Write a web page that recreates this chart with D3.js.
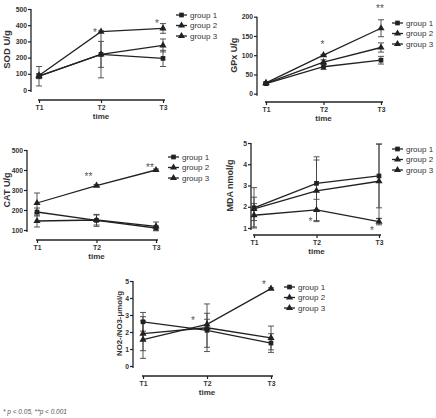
<!DOCTYPE html>
<html>
<head>
<meta charset="utf-8">
<script src="https://cdn.jsdelivr.net/npm/d3@7"></script>
<style>
  body { margin: 0; background: #fff; }
  svg { display: block; font-family: "Liberation Sans", Arial, sans-serif; }
</style>
</head>
<body>
<div id="chart"></div>
<script>
// data (mean, error) per group x time
const times = ["T1", "T2", "T3"];
const groups = ["group 1", "group 2", "group 3"];

const sodMean = [[85, 220, 195], [85, 220, 275], [90, 360, 380]];
const sodErr = [[15, 80, 50], [60, 145, 40], [10, 0, 30]];
const sodTicks = [0, 100, 200, 300, 400, 500];

const gpxMean = [[26, 70, 87], [27, 82, 120], [28, 100, 170]];
const gpxErr = [[3, 7, 10], [3, 6, 12], [2, 2, 22]];
const gpxTicks = [0, 50, 100, 150, 200];

const catMean = [[190, 148, 110], [145, 150, 118], [235, 322, 400]];
const catErr = [[20, 30, 10], [30, 25, 22], [50, 5, 5]];
const catTicks = [100, 200, 300, 400, 500];

const mdaMean = [[1.95, 3.1, 3.45], [1.9, 2.75, 3.2], [1.6, 1.85, 1.3]];
const mdaErr = [[0.95, 1.25, 1.5], [0.55, 1.45, 1.75], [0.55, 0.5, 0.15]];
const mdaTicks = [1, 2, 3, 4, 5];

const noMean = [[2.6, 2.1, 1.35], [1.9, 2.25, 1.65], [1.55, 2.45, 4.55]];
const noErr = [[0.55, 1.0, 0.55], [1.0, 1.4, 0.7], [1.1, 0.3, 0.05]];
const noTicks = [0, 1, 2, 3, 4, 5];

// significance marks: [time, value, label]
const sodSig = [["T2", 364, "*"], ["T3", 420, "*"]];
const gpxSig = [["T2", 132, "*"], ["T3", 225, "**"]];
const catSig = [["T2", 375, "**"], ["T3", 420, "**"]];
const mdaSig = [["T2", 1.38, "*"], ["T3", 0.95, "*"]];
const noSig = [["T2", 2.76, "*"], ["T3", 4.88, "*"]];

const footnote = "* p < 0.05, **p < 0.001";

const W = 436, H = 418;
const ink = "#222", txt = "#333";

const svg = d3.select("#chart").append("svg")
    .attr("width", W)
    .attr("height", H);

const panels = [
    { title: "SOD U/g", mean: sodMean, err: sodErr, ticks: sodTicks, sig: sodSig, domain: [0, 500],
      yAxisX: 31, xr: [39, 163], yr: [90, 9], xAxisY: 100, titleX: 7, titleSize: 9.5,
      legX: 176, legY: 15, sigDx: [-6, -6] },
    { title: "GPx U/g", mean: gpxMean, err: gpxErr, ticks: gpxTicks, sig: gpxSig, domain: [0, 200],
      yAxisX: 257, xr: [266, 381], yr: [93.7, 16.7], xAxisY: 102, titleX: 234, titleSize: 9,
      legX: 392, legY: 23, sigDx: [-1, -1] },
    { title: "CAT U/g", mean: catMean, err: catErr, ticks: catTicks, sig: catSig, domain: [100, 500],
      yAxisX: 27, xr: [37, 156], yr: [230, 150], xAxisY: 240, titleX: 7, titleSize: 9,
      legX: 168, legY: 157, sigDx: [-8, -6] },
    { title: "MDA nmol/g", mean: mdaMean, err: mdaErr, ticks: mdaTicks, sig: mdaSig, domain: [1, 5],
      yAxisX: 251, xr: [254, 379], yr: [228, 143], xAxisY: 235, titleX: 230, titleSize: 9,
      legX: 392, legY: 149, sigDx: [-6, -7] },
    { title: "NO2-/NO3-μmol/g", mean: noMean, err: noErr, ticks: noTicks, sig: noSig, domain: [0, 5],
      yAxisX: 133, xr: [143, 271], yr: [366, 281], xAxisY: 376, titleX: 119, titleSize: 7.8,
      legX: 284, legY: 287, sigDx: [-14, -7] }
];

const shapes = [d3.symbolSquare, d3.symbolTriangle, d3.symbolTriangle];
const shapeSize = [22, 22, 22];

panels.forEach(drawPanel);

function drawPanel(p) {
    const g = svg.append("g");
    const x = d3.scalePoint().domain(times).range(p.xr);
    const y = d3.scaleLinear().domain(p.domain).range(p.yr);

    // y axis
    const ya = g.append("g")
        .attr("transform", `translate(${p.yAxisX},0)`)
        .call(d3.axisLeft(y).tickValues(p.ticks).tickFormat(d3.format("d"))
            .tickSize(3).tickSizeOuter(0).tickPadding(1));
    ya.select(".domain").attr("stroke", ink).attr("stroke-width", 1.3)
        .attr("d", `M0,${p.yr[0] + 2}V${p.yr[1]}`);
    ya.selectAll(".tick line").attr("stroke", ink).attr("stroke-width", 1.2);
    ya.selectAll(".tick text").attr("fill", txt).style("font-size", "6.8px").style("font-weight", "bold");

    // x axis
    const xa = g.append("g")
        .attr("transform", `translate(0,${p.xAxisY})`)
        .call(d3.axisBottom(x).tickSize(3).tickSizeOuter(0).tickPadding(2));
    xa.select(".domain").attr("stroke", ink).attr("stroke-width", 1.3)
        .attr("d", `M${p.xr[0] - 1},0H${p.xr[1] + 2}`);
    xa.selectAll(".tick line").attr("stroke", ink).attr("stroke-width", 1.2);
    xa.selectAll(".tick text").attr("fill", txt).style("font-size", "6.8px").style("font-weight", "bold");

    g.append("text")
        .attr("x", (p.xr[0] + p.xr[1]) / 2)
        .attr("y", p.xAxisY + 19)
        .attr("text-anchor", "middle")
        .attr("fill", txt)
        .style("font-size", "8px")
        .style("font-weight", "bold")
        .text("time");

    g.append("text")
        .attr("transform", `translate(${p.titleX},${(p.yr[0] + p.yr[1]) / 2}) rotate(-90)`)
        .attr("dy", "0.35em")
        .attr("text-anchor", "middle")
        .attr("fill", txt)
        .style("font-size", p.titleSize + "px")
        .style("font-weight", "bold")
        .text(p.title);

    // error bars
    groups.forEach((grp, gi) => {
        times.forEach((t, ti) => {
            const m = p.mean[gi][ti], e = p.err[gi][ti];
            if (!e) return;
            const cx = x(t);
            g.append("line")
                .attr("x1", cx).attr("x2", cx)
                .attr("y1", y(m - e)).attr("y2", y(m + e))
                .attr("stroke", "#444").attr("stroke-width", 0.9);
            [m - e, m + e].forEach(v => {
                g.append("line")
                    .attr("x1", cx - 3).attr("x2", cx + 3)
                    .attr("y1", y(v)).attr("y2", y(v))
                    .attr("stroke", "#444").attr("stroke-width", 0.9);
            });
        });
    });

    // lines + markers
    const line = d3.line().x((d, i) => x(times[i])).y(d => y(d));
    groups.forEach((grp, gi) => {
        g.append("path")
            .datum(p.mean[gi])
            .attr("fill", "none")
            .attr("stroke", ink)
            .attr("stroke-width", 1.3)
            .attr("d", line);
        g.selectAll(null)
            .data(p.mean[gi])
            .enter()
            .append("path")
            .attr("transform", (d, i) => `translate(${x(times[i])},${y(d)})`)
            .attr("d", d3.symbol().type(shapes[gi]).size(shapeSize[gi]))
            .attr("fill", ink);
    });

    // significance stars
    p.sig.forEach((s, i) => {
        g.append("text")
            .attr("x", x(s[0]) + p.sigDx[i])
            .attr("y", y(s[1]) + 5)
            .attr("text-anchor", "middle")
            .attr("fill", "#555")
            .style("font-size", "10px")
            .text(s[2]);
    });

    // legend
    groups.forEach((grp, gi) => {
        const ly = p.legY + gi * 10.5;
        g.append("line")
            .attr("x1", p.legX).attr("x2", p.legX + 11)
            .attr("y1", ly).attr("y2", ly)
            .attr("stroke", ink).attr("stroke-width", 1.3);
        g.append("path")
            .attr("transform", `translate(${p.legX + 5.5},${ly})`)
            .attr("d", d3.symbol().type(shapes[gi]).size(shapeSize[gi]))
            .attr("fill", ink);
        g.append("text")
            .attr("x", p.legX + 14)
            .attr("y", ly)
            .attr("dy", "0.35em")
            .attr("fill", txt)
            .style("font-size", "8px")
            .text(grp);
    });
}

svg.append("text")
    .attr("x", 3)
    .attr("y", 414)
    .attr("fill", "#555")
    .style("font-size", "6.5px")
    .style("font-style", "italic")
    .text(footnote);
</script>
</body>
</html>
